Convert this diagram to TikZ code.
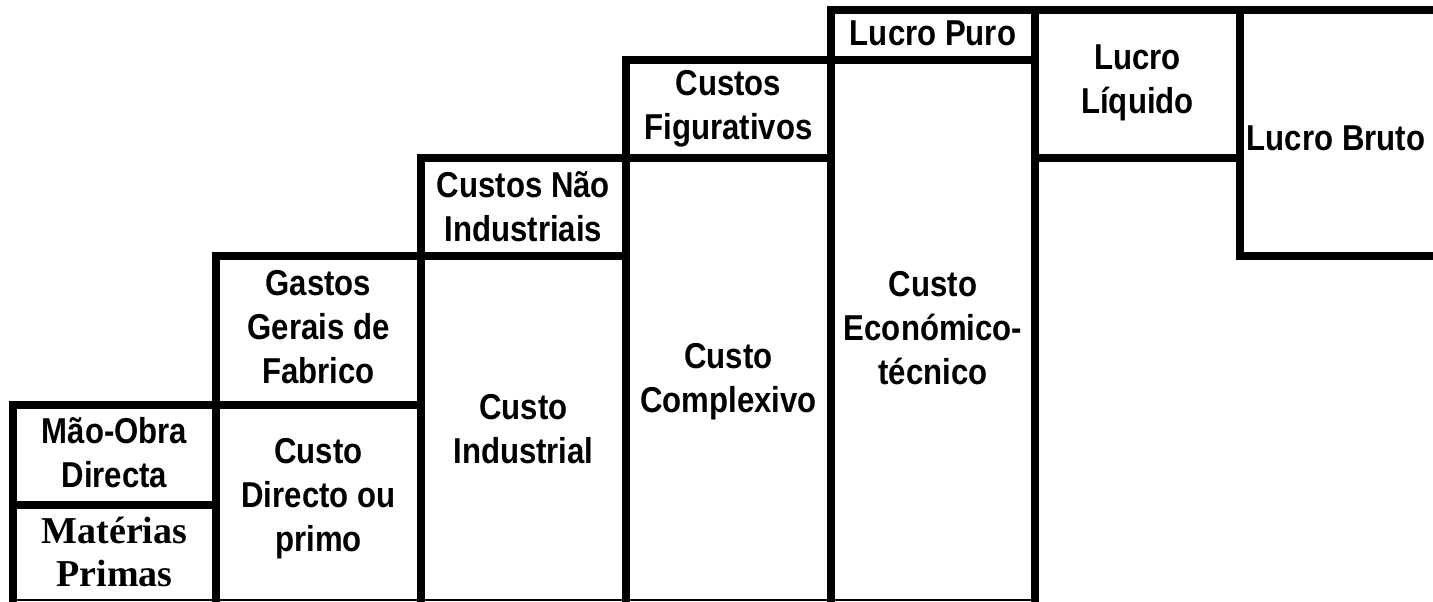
\documentclass[tikz,border=0pt]{standalone}
\usepackage{fontspec}
\setmainfont{Liberation Sans}
\newfontfamily\narrowsans[FakeStretch=0.865]{Liberation Sans}
\newfontfamily\serifbold{Liberation Serif}
\begin{document}
\begin{tikzpicture}[x=0.5pt,y=-0.5pt,
  thick line/.style={line width=3.8pt,line cap=rect},
  thin line/.style={line width=1pt},
  cell/.style={align=center,inner sep=0pt,font=\narrowsans\bfseries\fontsize{18pt}{22pt}\selectfont},
  serifcell/.style={align=center,inner sep=0pt,font=\serifbold\bfseries\fontsize{19pt}{21.5pt}\selectfont}]
\useasboundingbox (0,0) rectangle (1433,601);
\clip (0,0) rectangle (1433,601);
% vertical lines
\draw[thick line] (13,405) -- (13,601);
\draw[thick line] (216,256) -- (216,601);
\draw[thick line] (421,158) -- (421,601);
\draw[thick line] (626,60) -- (626,601);
\draw[thick line] (831,10) -- (831,601);
\draw[thick line] (1035,10) -- (1035,601);
\draw[thick line] (1240,10) -- (1240,256);
% horizontal lines
\draw[thick line] (831,10) -- (1445,10);
\draw[thick line] (626,60) -- (1035,60);
\draw[thick line] (421,158) -- (831,158);
\draw[thick line] (1035,158) -- (1240,158);
\draw[thick line] (216,256) -- (626,256);
\draw[thick line] (1240,256) -- (1445,256);
\draw[thick line] (13,405) -- (421,405);
\draw[thick line] (13,505) -- (216,505);
\draw[thin line] (10,599.5) -- (1038,599.5);
% texts
\node[cell] (mo) at (114.5,453) {Mão-Obra\\Directa};
\node[serifcell] (mp) at (114.5,552) {Matérias\\Primas};
\node[cell] (gg) at (318.5,327) {Gastos\\Gerais de\\Fabrico};
\node[cell] (cd) at (318.5,499) {Custo\\Directo ou\\primo};
\node[cell] (cni) at (523.5,207) {Custos Não\\Industriais};
\node[cell] (ci) at (523.5,429) {Custo\\Industrial};
\node[cell] (cf) at (728.5,109) {Custos\\Figurativos};
\node[cell] (cc) at (728.5,382) {Custo\\Complexivo};
\node[cell] (lp) at (933,33) {Lucro Puro};
\node[cell] (ce) at (933,328) {Custo\\Económico-\\técnico};
\node[cell] (ll) at (1137.5,83) {Lucro\\Líquido};
\node[cell] (lb) at (1336,138) {Lucro Bruto};
\end{tikzpicture}
\end{document}
